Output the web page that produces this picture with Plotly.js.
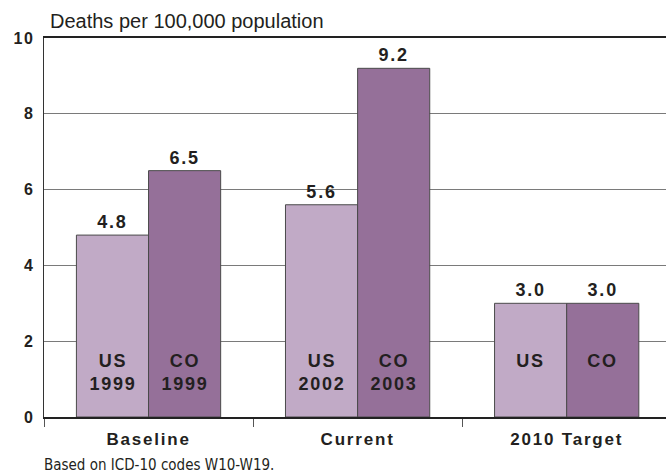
<!DOCTYPE html>
<html>
<head>
<meta charset="utf-8">
<script src="https://cdn.plot.ly/plotly-3.0.1.min.js"></script>
<style>
  html, body { margin: 0; padding: 0; background: #fff; overflow: hidden; }
  #chart { width: 666px; height: 476px; }
  .xtick text, .ytick text, .bartext { letter-spacing: 1.8px; }
</style>
</head>
<body>
<div id="chart"></div>
<script>
// Fall-related death rates, US vs Colorado
const categories = ['Baseline', 'Current', '2010 Target'];
const usValues = [4.8, 5.6, 3.0];
const coValues = [6.5, 9.2, 3.0];
const usBarLabels = ['US<br>1999', 'US<br>2002', 'US'];
const coBarLabels = ['CO<br>1999', 'CO<br>2003', 'CO'];
const yTicks = [0, 2, 4, 6, 8, 10];
const footnote = 'Based on ICD-10 codes W10-W19.';

const US_COLOR = '#C1AAC6';
const CO_COLOR = '#957099';
const INK = '#231F20';
const SANS = 'Liberation Sans, Arial, sans-serif';

function barTrace(name, values, color) {
  return {
    type: 'bar',
    name: name,
    x: categories,
    y: values,
    marker: { color: color, line: { color: '#4a4a4a', width: 1 } },
    texttemplate: '<b>%{y:.1f}</b>',
    textposition: 'outside',
    cliponaxis: false,
    constraintext: 'none',
    outsidetextfont: { family: SANS, size: 18, color: INK },
    hoverinfo: 'skip'
  };
}

const data = [
  barTrace('US', usValues, US_COLOR),
  barTrace('CO', coValues, CO_COLOR)
];

// Labels stacked near the bottom of each bar
const annotations = [];
const halfBar = 36;
categories.forEach((c, i) => {
  [[usBarLabels[i], -halfBar], [coBarLabels[i], halfBar]].forEach(([txt, dx]) => {
    annotations.push({
      x: c, y: 1.8, xref: 'x', yref: 'y',
      xshift: dx, yanchor: 'top', valign: 'top',
      text: '<b>' + txt + '</b>',
      showarrow: false,
      font: { family: SANS, size: 18, color: INK },
      align: 'center'
    });
  });
});

annotations.push({
  xref: 'paper', yref: 'paper', x: 0, y: 0,
  xanchor: 'left', yanchor: 'top', yshift: -37, xshift: -2,
  text: footnote,
  showarrow: false,
  font: { family: 'DejaVu Sans Condensed, Liberation Sans Narrow, Arial Narrow, sans-serif', size: 15, color: INK }
});

const layout = {
  width: 666,
  height: 476,
  margin: { l: 44, r: 0, t: 38, b: 59, pad: 0 },
  paper_bgcolor: '#fff',
  plot_bgcolor: '#fff',
  showlegend: false,
  barmode: 'group',
  bargap: 0.31,
  bargroupgap: 0,
  title: {
    text: 'Deaths per 100,000 population',
    xref: 'container', yref: 'container',
    x: 50 / 666, xanchor: 'left',
    y: 1 - 21 / 476, yanchor: 'middle',
    font: { family: SANS, size: 20, color: INK }
  },
  xaxis: {
    type: 'category',
    range: [-0.5, 2.475],
    showline: true, linecolor: '#222', linewidth: 2, mirror: true,
    ticks: 'outside', tickson: 'boundaries', ticklen: 8, tickwidth: 1, tickcolor: '#555',
    ticklabelstandoff: 6,
    tickfont: { family: SANS, size: 17, color: INK, weight: 'bold' },
    showgrid: false, zeroline: false, fixedrange: true
  },
  yaxis: {
    range: [0, 10],
    tickvals: yTicks,
    ticktext: yTicks.map(v => '<b>' + v + '</b>'),
    ticks: '', ticklabelstandoff: 5,
    tickfont: { family: SANS, size: 16, color: INK },
    showline: true, linecolor: '#333', linewidth: 1,
    showgrid: true, gridcolor: '#7a7a7a', gridwidth: 1,
    zeroline: false, fixedrange: true
  },
  annotations: annotations
};

Plotly.newPlot('chart', data, layout, { displayModeBar: false, staticPlot: true }).then(() => {
  document.querySelectorAll('.annotation-text').forEach(t => {
    if (t.textContent !== footnote) t.style.letterSpacing = '1.8px';
  });
});
</script>
</body>
</html>
